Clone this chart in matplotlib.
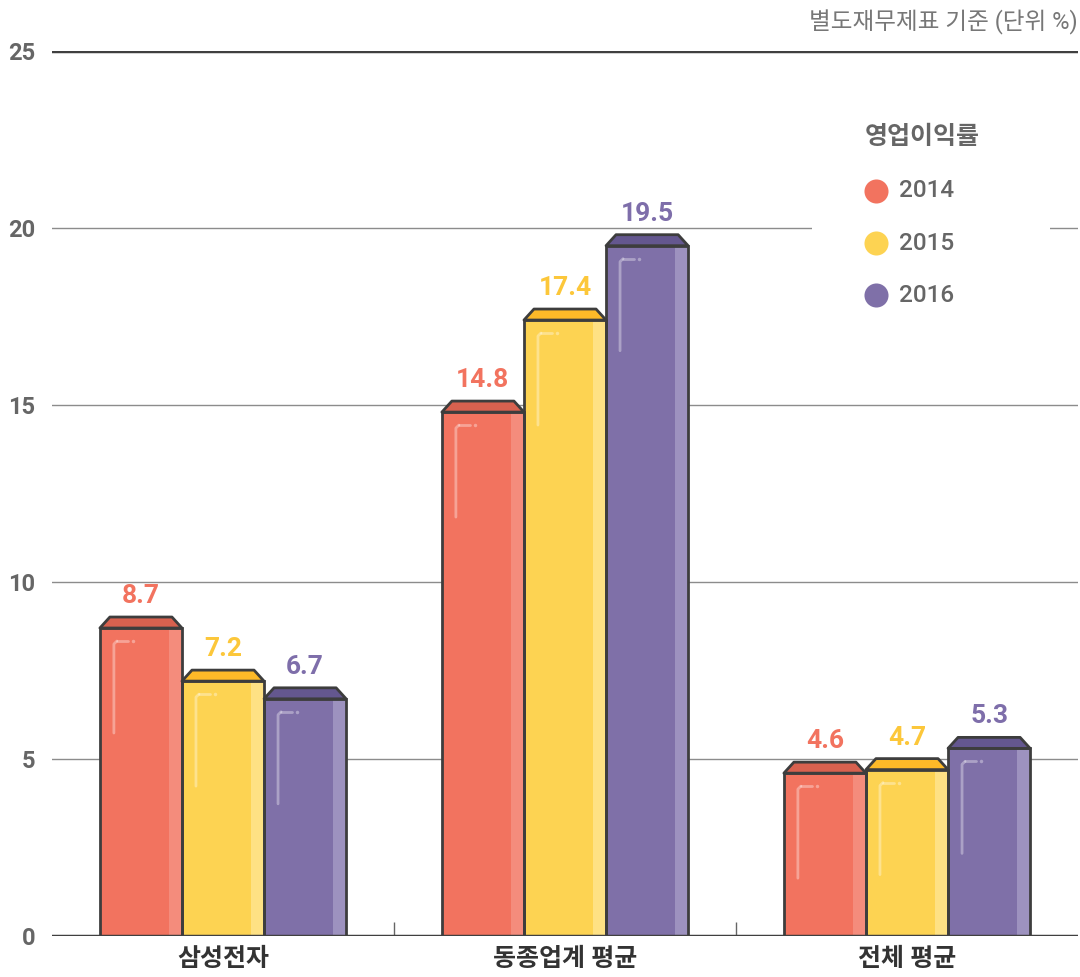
import matplotlib
matplotlib.use('Agg')
import matplotlib.pyplot as plt
from matplotlib.patches import Polygon, Rectangle
import numpy as np

plt.rcParams['font.family'] = ['Roboto', 'Noto Sans CJK KR', 'DejaVu Sans']

# data
groups = ['삼성전자', '동종업계 평균', '전체 평균']
years = ['2014', '2015', '2016']
v2014 = [8.7, 14.8, 4.6]
v2015 = [7.2, 17.4, 4.7]
v2016 = [6.7, 19.5, 5.3]
yticks = [0, 5, 10, 15, 20, 25]

series = [v2014, v2015, v2016]
fills = ['#F2735F', '#FDD352', '#7F70A8']
caps = ['#D8614F', '#FDB928', '#64578F']
stripes = ['#F48C7C', '#FEE184', '#9D92BF']
label_colors = ['#F2735F', '#FCC73A', '#7E6EAA']
edge = '#3d3d3d'

fig = plt.figure(figsize=(10.8, 9.77), dpi=100)
ax = fig.add_axes([52 / 1080, 41 / 977, 1026 / 1080, 885 / 977])
ax.set_xlim(-0.5, 2.5)
ax.set_ylim(0, 25)

# pixel -> data conversions
px = 3 / 1026
py = 25 / 885

# grid
for y in yticks[1:-1]:
    ax.axhline(y, color='#8c8c8c', lw=1, zorder=1)
ax.axhline(25, color='#404040', lw=2.5, zorder=1)
ax.axhline(0, color='#404040', lw=2.5, zorder=6)
ax.vlines([0.5, 1.5], 0, 14 * py, color='#666666', lw=1, zorder=1)

width = 0.24
x = np.arange(len(groups))
for i, vals in enumerate(series):
    xs = x + (i - 1) * width
    for xc, v in zip(xs, vals):
        l, r = xc - width / 2, xc + width / 2
        ax.bar(xc, v, width, color=fills[i], lw=0, zorder=2)
        # light stripe on the right
        ax.bar(r - 13 * px, v, 13 * px, align='edge', color=stripes[i], lw=0, zorder=3)
        # highlight corner
        hx = l + 14 * px
        top = v - 13 * py
        ax.plot([hx, hx, hx + 3 * px], [v - 105 * py, top - 3 * py, top],
                color='white', alpha=0.35, lw=2, solid_capstyle='round', zorder=4)
        ax.plot([hx + 3 * px, hx + 14 * px], [top, top],
                color='white', alpha=0.35, lw=2, solid_capstyle='round', zorder=4)
        ax.plot([hx + 19 * px], [top], 'o', color='white', alpha=0.35, ms=2.5, mew=0, zorder=4)
        # outline
        ax.add_patch(Rectangle((l, 0), width, v, fill=False, ec=edge, lw=2, zorder=5))
        # cap
        ch = 11 * py
        ins = 10 * px
        ax.add_patch(Polygon([[l, v], [l + ins, v + ch], [r - ins, v + ch], [r, v]],
                             closed=True, fc=caps[i], ec=edge, lw=2, zorder=5,
                             joinstyle='round'))
        ax.annotate(f'{v}', (xc, v), xytext=(0, 18), textcoords='offset points',
                    ha='center', va='baseline', fontsize=19, fontweight='bold',
                    color=label_colors[i])

# axes styling
for s in ax.spines.values():
    s.set_visible(False)
ax.set_yticks(yticks)
ax.set_yticklabels([str(t) for t in yticks], fontsize=17, fontweight='bold', color='#666666')
ax.tick_params(axis='y', length=0, pad=12)
ax.set_xticks(x)
ax.set_xticklabels(groups, fontsize=18, fontweight='bold', color='#333333')
ax.tick_params(axis='x', length=0, pad=8)

# legend
ax.add_patch(Rectangle((0.741, 0.696), 0.232, 0.237, transform=ax.transAxes,
                       fc='white', ec='none', zorder=1.5))
ax.text(0.792, 0.903, '영업이익률', transform=ax.transAxes, fontsize=18,
        fontweight='bold', color='#666666', va='center', ha='left')
for i, (yr, yy) in enumerate(zip(years, [0.842, 0.783, 0.724])):
    ax.scatter([0.803], [yy], s=300, color=fills[i], transform=ax.transAxes,
               zorder=7, lw=0, clip_on=False)
    ax.text(0.826, yy, yr, transform=ax.transAxes, fontsize=17.5, color='#666666',
            va='center', ha='left', fontweight='medium')

fig.text(1078 / 1080, 1 - 22 / 977, '별도재무제표 기준 (단위 %)', ha='right', va='center',
         fontsize=17, color='#777777')

fig.savefig('out.png', dpi=100)
